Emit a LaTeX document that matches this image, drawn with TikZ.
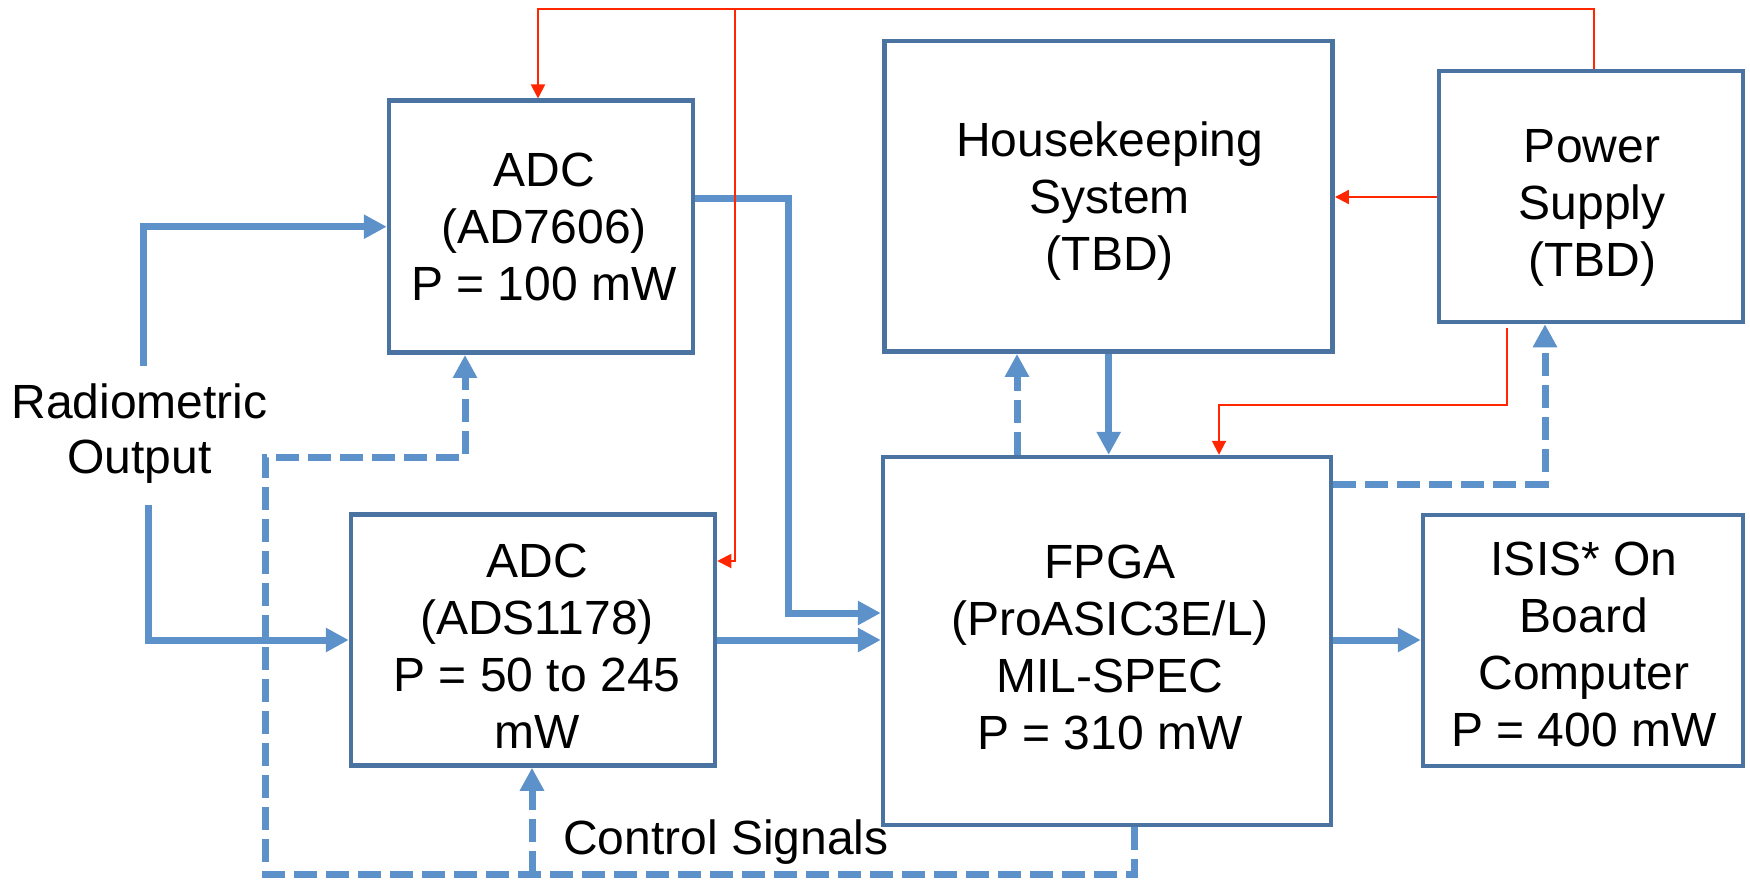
\documentclass[tikz,border=0pt]{standalone}
\usepackage{fontspec}
\setmainfont{Liberation Sans}
\usetikzlibrary{arrows.meta}
\definecolor{boxblue}{RGB}{74,115,161}
\definecolor{linkblue}{RGB}{92,145,201}
\definecolor{pwrred}{RGB}{255,38,0}
\begin{document}
\begin{tikzpicture}[x=1pt,y=-1pt,
  blk/.style={draw=boxblue, line width=4.5pt, rectangle, inner sep=0pt},
  blktext/.style={align=center, font=\fontsize{48}{57}\selectfont, inner sep=0pt},
  sig/.style={draw=linkblue, line width=7pt},
  sigarrow/.style={sig, -{Triangle[length=23pt,width=23pt]}},
  ctl/.style={dash pattern=on 23pt off 9pt},
  pwr/.style={draw=pwrred, line width=2pt},
  pwrarrow/.style={pwr, -{Triangle[length=14pt,width=14pt]}},
  lbl/.style={font=\fontsize{48}{55}\selectfont, align=center, inner sep=0pt}]

\path[fill=white, use as bounding box] (0,0) rectangle (1750,879);

% blocks (text attached as centred labels, shifted to match the original)
\node[blk, minimum width=304pt, minimum height=252pt,
  label={[blktext, name=adc1-t, xshift=3pt]center:{ADC\\(AD7606)\\P = 100 mW}}] (adc1) at (541,226.7) {};
\node[blk, minimum width=448pt, minimum height=310.7pt,
  label={[blktext, name=hk-t, xshift=1pt, yshift=-5pt]center:{Housekeeping\\System\\(TBD)}}] (hk) at (1108.7,196.3) {};
\node[blk, minimum width=304pt, minimum height=251pt,
  label={[blktext, name=ps-t, xshift=1pt, yshift=-11pt]center:{Power\\Supply\\(TBD)}}] (ps) at (1591,196.5) {};
\node[blk, minimum width=364pt, minimum height=251pt,
  label={[blktext, name=adc2-t, xshift=4pt, yshift=-6pt]center:{ADC\\(ADS1178)\\P = 50 to 245\\mW}}] (adc2) at (533,640) {};
\node[blk, minimum width=448pt, minimum height=368pt,
  label={[blktext, name=fpga-t, xshift=3pt, yshift=-6pt]center:{FPGA\\(ProASIC3E/L)\\MIL-SPEC\\P = 310 mW}}] (fpga) at (1107,641) {};
\node[blk, minimum width=320pt, minimum height=251pt,
  label={[blktext, name=isis-t, xshift=1pt, yshift=-4pt]center:{ISIS* On\\Board\\Computer\\P = 400 mW}}] (isis) at (1583,640.5) {};

% labels
\node[lbl] (radio) at (139.5,434) {Radiometric\\Output};
\node[lbl, anchor=base west] (ctrl) at (563,854) {Control Signals};

% free ends / junctions
\coordinate (r1) at (143,366);
\coordinate (r2) at (148,505);
\coordinate (cj) at (532,874);
\coordinate (tj) at (734.7,9);

% solid signal lines
\draw[sigarrow] (r1) |- (adc1.west);
\draw[sigarrow] (r2) |- (adc2.west);
\draw[sigarrow] (adc1.east |- 0,198) -| (788,613) -- (fpga.west |- 0,613);
\draw[sigarrow] (adc2.east) -- (fpga.west |- adc2.east);
\draw[sigarrow] (hk.south) -- (hk.south |- fpga.north);
\draw[sigarrow] (fpga.east |- 0,640) -- (isis.west |- 0,640);

% dashed control lines
\draw[sigarrow, ctl] (fpga.north -| 1017,0) -- (hk.south -| 1017,0);
\draw[sigarrow, ctl] (fpga.east |- 0,484) -| (ps.south -| 1545,0);
\draw[sigarrow, ctl] (fpga.south -| 1134,0) |- (265,874) |- (465,457) -- (adc1.south -| 465,0);
\draw[sigarrow, ctl] (cj) -- (adc2.south -| 532,0);

% power lines
\draw[pwrarrow] (ps.north -| 1594,0) |- (538,9) -- (adc1.north -| 538,0);
\draw[pwrarrow] (tj) |- (adc2.east |- 0,561);
\draw[pwrarrow] (ps.west |- 0,197) -- (hk.east |- 0,197);
\draw[pwrarrow, shorten <=4pt] (ps.south -| 1507,0) |- (1219,405) -- (fpga.north -| 1219,0);
\end{tikzpicture}
\end{document}
